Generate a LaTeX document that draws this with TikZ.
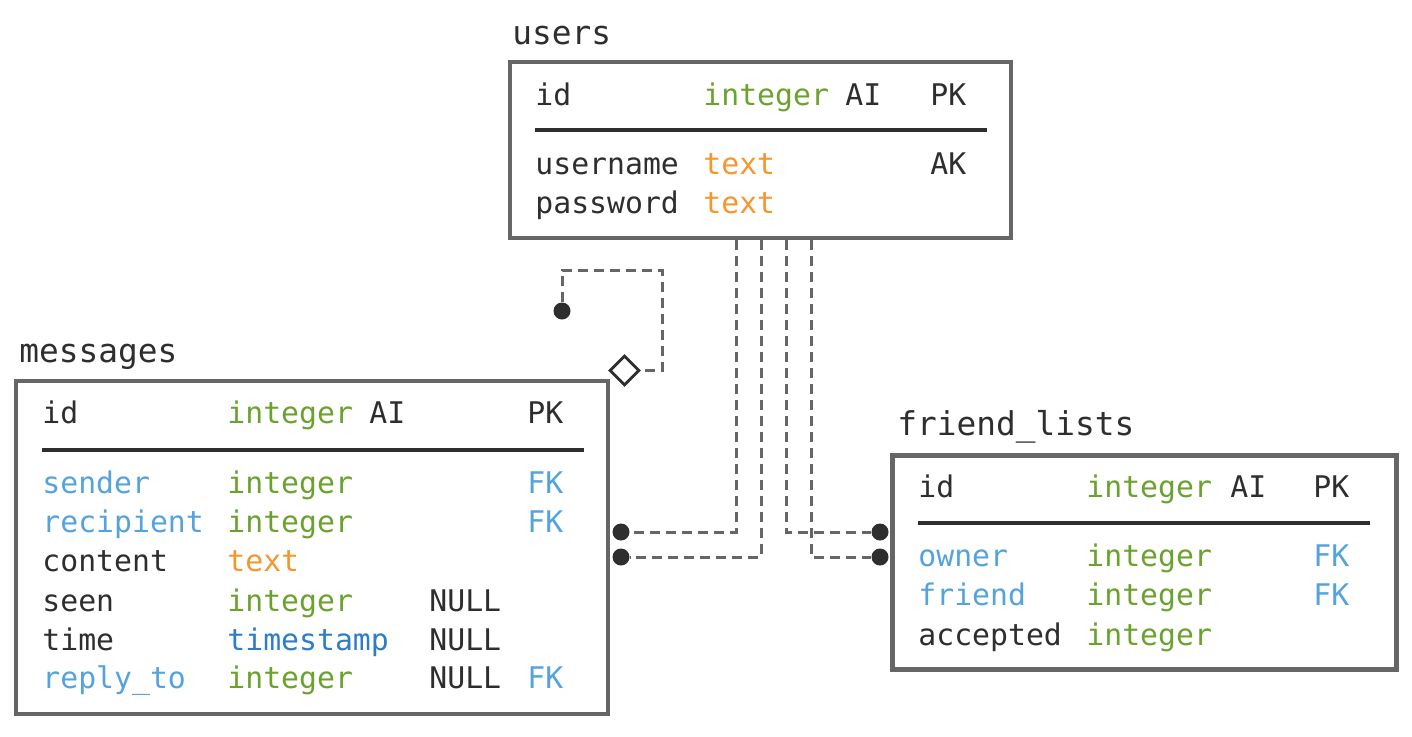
\documentclass[tikz,border=0pt]{standalone}
\usepackage{fontspec}
\setmonofont{DejaVu Sans Mono}
\usepackage{tikz}
\usetikzlibrary{shapes.geometric,positioning}

\definecolor{boxgray}{HTML}{666666}
\definecolor{ink}{HTML}{2E2E2E}
\definecolor{tgreen}{HTML}{6BA22E}
\definecolor{torange}{HTML}{F7952F}
\definecolor{tblue}{HTML}{55A3DD}
\definecolor{tsblue}{HTML}{2E7DC6}

\begin{document}
\begin{tikzpicture}[x=0.5pt,y=-0.5pt,
		tbl/.style={draw=boxgray,line width=2.4pt,rectangle,inner sep=0pt,outer sep=0pt},
		cell/.style={anchor=base west,inner sep=0pt,text=ink,font=\ttfamily\fontsize{14.9pt}{18pt}\selectfont},
		title/.style={cell,font=\ttfamily\fontsize{16.4pt}{19pt}\selectfont},
		fld/.style={cell,text=tblue},
		int/.style={cell,text=tgreen},
		txt/.style={cell,text=torange},
		stamp/.style={cell,text=tsblue},
		sep/.style={draw=ink,line width=1.6pt},
		rel/.style={draw=boxgray,line width=1.5pt,dash pattern=on 5pt off 3pt},
		dot/.style={circle,fill=ink,inner sep=0pt,minimum size=8.5pt},
		self/.style={diamond,draw=ink,line width=1.4pt,fill=white,inner sep=0pt,minimum size=15pt}]
		\useasboundingbox (0,0) rectangle (1412,736);

		% users
		\node[title] (users-title) at (512,44) {users};
		\node[tbl,minimum width=250.5pt,minimum height=88pt] (users) at (760.5,150) {};
		\node[cell] (users-id) at (535,105) {id};
		\node[int] (users-id-type) at (703,105) {integer};
		\node[cell] (users-id-ai) at (845,105) {AI};
		\node[cell] (users-id-key) at (930,105) {PK};
		\draw[sep] (535,130) -- (987,130);
		\node[cell] (users-name) at (535,174) {username};
		\node[txt] (users-name-type) at (703,174) {text};
		\node[cell] (users-name-key) at (930,174) {AK};
		\node[cell] (users-pass) at (535,213) {password};
		\node[txt] (users-pass-type) at (703,213) {text};

		% messages
		\node[title] (msg-title) at (19,362) {messages};
		\node[tbl,minimum width=296pt,minimum height=166.5pt] (messages) at (312,547.5) {};
		\node[cell] (msg-id) at (42,423) {id};
		\node[int] (msg-id-type) at (227,423) {integer};
		\node[cell] (msg-id-ai) at (369,423) {AI};
		\node[cell] (msg-id-key) at (527,423) {PK};
		\draw[sep] (42,450) -- (584,450);
		\node[fld] (msg-sender) at (42,493) {sender};
		\node[int] (msg-sender-type) at (227,493) {integer};
		\node[fld] (msg-sender-key) at (527,493) {FK};
		\node[fld] (msg-recip) at (42,532) {recipient};
		\node[int] (msg-recip-type) at (227,532) {integer};
		\node[fld] (msg-recip-key) at (527,532) {FK};
		\node[cell] (msg-content) at (42,571) {content};
		\node[txt] (msg-content-type) at (227,571) {text};
		\node[cell] (msg-seen) at (42,611) {seen};
		\node[int] (msg-seen-type) at (227,611) {integer};
		\node[cell] (msg-seen-null) at (429,611) {NULL};
		\node[cell] (msg-time) at (42,650) {time};
		\node[stamp] (msg-time-type) at (227,650) {timestamp};
		\node[cell] (msg-time-null) at (429,650) {NULL};
		\node[fld] (msg-reply) at (42,688) {reply\_to};
		\node[int] (msg-reply-type) at (227,688) {integer};
		\node[cell] (msg-reply-null) at (429,688) {NULL};
		\node[fld] (msg-reply-key) at (527,688) {FK};

		% friend_lists
		\node[title] (fl-title) at (897,435) {friend\_lists};
		\node[tbl,minimum width=252pt,minimum height=107pt] (friends) at (1144.5,562.5) {};
		\node[cell] (fl-id) at (918,497) {id};
		\node[int] (fl-id-type) at (1086,497) {integer};
		\node[cell] (fl-id-ai) at (1230,497) {AI};
		\node[cell] (fl-id-key) at (1313,497) {PK};
		\draw[sep] (918,523) -- (1370,523);
		\node[fld] (fl-owner) at (918,566) {owner};
		\node[int] (fl-owner-type) at (1086,566) {integer};
		\node[fld] (fl-owner-key) at (1313,566) {FK};
		\node[fld] (fl-friend) at (918,605) {friend};
		\node[int] (fl-friend-type) at (1086,605) {integer};
		\node[fld] (fl-friend-key) at (1313,605) {FK};
		\node[cell] (fl-acc) at (918,645) {accepted};
		\node[int] (fl-acc-type) at (1086,645) {integer};

		% relations
		\coordinate (u1) at (736,240);
		\coordinate (u2) at (761,240);
		\coordinate (u3) at (786,240);
		\coordinate (u4) at (811,240);
		\node[dot] (m-sender) at (621,532) {};
		\node[dot] (m-recip) at (621,557) {};
		\node[dot] (f-owner) at (880,532) {};
		\node[dot] (f-friend) at (880,557) {};
		\path[rel] (u1) |- (m-sender);
		\path[rel] (u2) |- (m-recip);
		\path[rel] (u3) |- (f-owner);
		\path[rel] (u4) |- (f-friend);

		% reply_to -> id
		\node[dot] (r-from) at (562,311) {};
		\node[self] (r-to) at (624.5,370.5) {};
		\coordinate (r-bend) at (662,270);
		\path[rel] (r-from) |- (r-bend) |- (r-to);
	\end{tikzpicture}
\end{document}
